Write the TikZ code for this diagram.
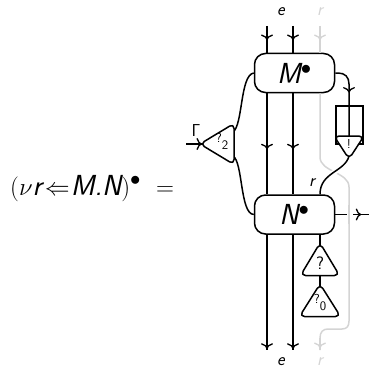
\documentclass[tikz,border=0pt]{standalone}
\usetikzlibrary{arrows.meta,decorations.markings,calc}
\definecolor{ghost}{gray}{0.83}
\tikzset{
  x=1pt,y=-1pt,
  wire/.style={line width=1.5pt,line join=round},
  ghostwire/.style={wire,color=ghost},
  arr/.style={postaction={decorate,decoration={markings,mark=at position #1 with {\arrow[line width=1.3pt]{Computer Modern Rightarrow[length=5.5pt,width=12pt]}}}}},
  term/.style={draw,line width=1.5pt,fill=white,rounded corners=11pt,minimum width=80pt,minimum height=39pt,inner sep=0pt,font=\fontsize{29}{31}\selectfont\sffamily\itshape},
  triedge/.style={draw,line width=1.5pt,fill=white,rounded corners=5pt,line join=round},
  tritext/.style={inner sep=0pt,font=\fontsize{#1}{14}\selectfont\sffamily},
  lab/.style={inner sep=0pt,font=\fontsize{18}{20}\selectfont\sffamily\itshape},
}
\begin{document}
\begin{tikzpicture}
\useasboundingbox (0,0) rectangle (369,369);
% terms and box
\node[term] (M) at (294.5,73) {M$^{\bullet}$};
\node[term] (N) at (294.5,214.5) {N$^{\bullet}$};
\node[draw,line width=1.5pt,minimum width=27pt,minimum height=38pt,inner sep=0pt] (B) at (349.5,125) {};
% triangle corners
\coordinate (T1a) at (349,159); \coordinate (T1l) at (334,136); \coordinate (T1r) at (364,136);
\coordinate (T2a) at (320,243); \coordinate (T2l) at (300.5,275.5); \coordinate (T2r) at (339.5,275.5);
\coordinate (T3a) at (320,284); \coordinate (T3l) at (299.5,316.5); \coordinate (T3r) at (340.5,316.5);
\coordinate (T4a) at (200,144); \coordinate (T4t) at (234,123.5); \coordinate (T4b) at (234,164.5);
% free ends
\coordinate (gin) at (186,144);
\coordinate (gtip) at (203,144);
\coordinate (out) at (369,214.5);
\coordinate (e1t) at (267,26); \coordinate (e2t) at (293,26); \coordinate (rt) at (320,26);
\coordinate (e1b) at (267,350); \coordinate (e2b) at (293,350); \coordinate (rb) at (320,350);
\coordinate (m1b) at (M.south -| e1t); \coordinate (m2b) at (M.south -| e2t); \coordinate (m3b) at (M.south -| rt);
\coordinate (m1t) at (M.north -| e1t); \coordinate (m2t) at (M.north -| e2t); \coordinate (m3t) at (M.north -| rt);
\coordinate (n1b) at (N.south -| e1t); \coordinate (n2b) at (N.south -| e2t); \coordinate (n3b) at (N.south -| rt);
\coordinate (n1t) at (N.north -| e1t); \coordinate (n2t) at (N.north -| e2t); \coordinate (n3t) at (N.north -| rt);
\coordinate (gr) at (349,187);
\coordinate (grb) at (349,321);
% ghost wires
\draw[ghostwire,arr=14pt] (rt) -- (m3t);
\draw[ghostwire] (m3b) -- (320,157) .. controls (320,172) and (349,172) .. (gr)
   -- (grb) .. controls (349,326) and (347,329) .. (342,329) -- (328,329) .. controls (323,329) and (320,332) .. (320,338) -- (rb);
\draw[ghostwire,arr=10pt] (320,338) -- (rb);
% black wires
\draw[wire,arr=14pt] (e1t) -- (m1t);
\draw[wire,arr=14pt] (e2t) -- (m2t);
\draw[wire,arr=56pt] (m1b) -- (n1t);
\draw[wire,arr=56pt] (m2b) -- (n2t);
\draw[wire,arr=114pt] (n1b) -- (e1b);
\draw[wire,arr=114pt] (n2b) -- (e2b);
\draw[wire,arr=26pt] (N.east) -- (out);
\draw[line width=6pt,white] (347,214.5) -- (352.5,214.5);
\draw[ghostwire] (349,205) -- (349,224);
\draw[wire,arr=29pt] (M.east) -- (338,73) .. controls (345,73) and (349,77) .. (349,84) -- (349,137);
\draw[wire,arr=16pt] (gin) -- (gtip);
\draw[wire] (233,132) .. controls (243,125) and (240,75) .. (M.west);
\draw[wire] (233,156) .. controls (243,162) and (240,214) .. (N.west);
\draw[line width=5pt,white] (342,167) .. controls (335,173) and (325,175) .. (322,186);
\draw[wire] (349,156) .. controls (345,172) and (320,172) .. (n3t);
\draw[wire] (n3b) -- (320,247);
\draw[wire] (320,275) -- (320,288);
% triangles
\draw[triedge] (T1l) -- (T1r) -- (T1a) -- cycle;
\draw[triedge] (T2a) -- (T2r) -- (T2l) -- cycle;
\draw[triedge] (T3a) -- (T3r) -- (T3l) -- cycle;
\draw[triedge] (T4a) -- (T4t) -- (T4b) -- cycle;
\node[tritext=13] (t1) at (349,144) {!};
\node[tritext=18] (t2) at (320,263) {?};
\node[tritext=13,anchor=base] (t3) at (320,310) {\raisebox{7pt}{?}0};
\node[tritext=13,anchor=base] (t4) at (222,149) {\raisebox{7pt}{?}2};
% labels
\node[lab] (le) at (281,12) {e};
\node[lab,text=ghost] (lr) at (320,12) {r};
\node[lab] (le2) at (281,362) {e};
\node[lab,text=ghost] (lr2) at (320,362) {r};
\node[inner sep=0pt,font=\fontsize{18}{20}\selectfont] (lg) at (196,130) {$\mathsf{\Gamma}$};
\node[lab] (lr3) at (312,183) {r};
\node[inner sep=0pt,anchor=base west,font=\fontsize{29}{31}\selectfont\sffamily\itshape] (eq) at (10,195) {$(\nu$r\kern3pt$\Leftarrow$\kern1pt M.N$)^{\bullet}$\hspace{15pt}$=$};
\end{tikzpicture}
\end{document}
